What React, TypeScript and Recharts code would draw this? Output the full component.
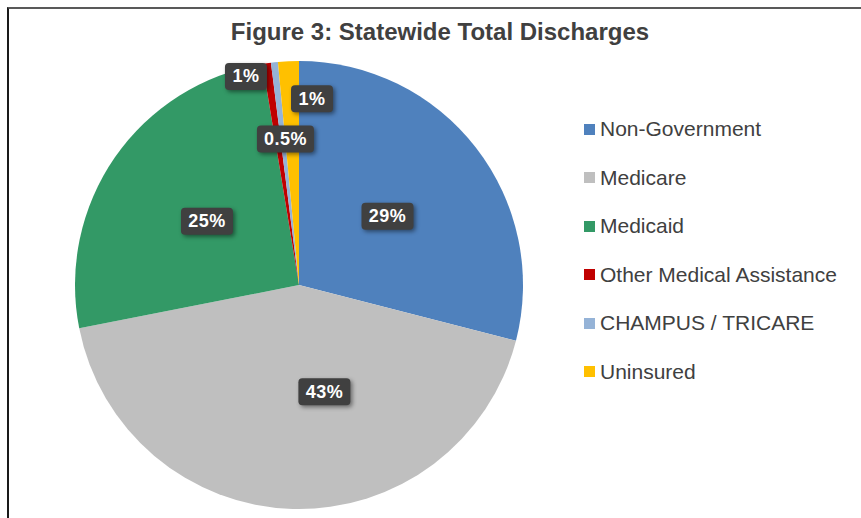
import { PieChart, Pie, Cell, Legend } from 'recharts'

const categories = [
  'Non-Government',
  'Medicare',
  'Medicaid',
  'Other Medical Assistance',
  'CHAMPUS / TRICARE',
  'Uninsured',
]
const shares = [29.0, 42.9, 25.5, 0.6, 0.5, 1.5]
const shareLabels = ['29%', '43%', '25%', '1%', '0.5%', '1%']

const colors = ['#4F81BD', '#BFBFBF', '#339966', '#C00000', '#95B3D7', '#FFC000']
// where each data label sits: fraction of the radius, and a nudge in degrees (clockwise)
const labelSpots = [
  { r: 0.5, nudge: 0 },
  { r: 0.49, nudge: -15 },
  { r: 0.5, nudge: 0 },
  { r: 0.96, nudge: -6 },
  { r: 0.655, nudge: 1 },
  { r: 0.833, nudge: 6.7 },
]

const data = categories.map((name, i) => ({ name, value: shares[i] }))

const charW: Record<string, number> = { '.': 0.278, '%': 0.889 }
function textWidth(s: string, size: number) {
  return s.split('').reduce((w, c) => w + (charW[c] ?? 0.556), 0) * size
}

function renderLabel(props: any) {
  const { cx, cy, midAngle, outerRadius, index } = props
  const spot = labelSpots[index]
  const theta = ((90 - midAngle + spot.nudge) * Math.PI) / 180
  const r = outerRadius * spot.r
  const x = cx + r * Math.sin(theta)
  const y = cy - r * Math.cos(theta)
  const text = shareLabels[index]
  const w = textWidth(text, 18) + 16
  const h = 27
  return (
    <g key={`lbl-${index}`}>
      <rect
        x={x - w / 2}
        y={y - h / 2}
        width={w}
        height={h}
        rx={4}
        fill="#404040"
        style={{ filter: 'drop-shadow(2px 2px 2px rgba(0,0,0,0.45))' }}
      />
      <text
        x={x}
        y={y + 1}
        textAnchor="middle"
        dominantBaseline="middle"
        fill="#ffffff"
        fontSize={18}
        fontWeight="bold"
        letterSpacing={0.5}
        fontFamily="'Liberation Sans', Arial, sans-serif"
      >
        {text}
      </text>
    </g>
  )
}

function LegendList({ payload }: any) {
  const items = [...(payload || [])].sort(
    (a: any, b: any) => categories.indexOf(a.value) - categories.indexOf(b.value)
  )
  return (
    <div>
      {items.map((entry: any, i: number) => (
        <div
          key={i}
          style={{ display: 'flex', alignItems: 'center', height: 48.5, whiteSpace: 'nowrap' }}
        >
          <span
            style={{ width: 11, height: 11, background: entry.color, marginRight: 5, flex: 'none' }}
          />
          <span style={{ fontSize: 21, color: '#404040' }}>{entry.value}</span>
        </div>
      ))}
    </div>
  )
}

export default function App() {
  return (
    <div
      style={{
        position: 'relative',
        width: 861,
        height: 518,
        overflow: 'hidden',
        background: '#fff',
        fontFamily: "'Liberation Sans', Arial, sans-serif",
      }}
    >
      <style>{`body{margin:0} .recharts-pie-sectors{filter:drop-shadow(0 0 6px rgba(0,0,0,0.3))}`}</style>
      <div
        style={{
          position: 'absolute',
          left: 7,
          top: 7,
          width: 900,
          height: 600,
          borderLeft: '2px solid #1a1a1a',
          borderTop: '2px solid #595959',
        }}
      />
      <div
        style={{
          position: 'absolute',
          top: 18,
          left: 0,
          width: 880,
          textAlign: 'center',
          fontSize: 24,
          fontWeight: 'bold',
          color: '#404040',
        }}
      >
        Figure 3: Statewide Total Discharges
      </div>
      <PieChart
        width={861}
        height={518}
        margin={{ top: 0, right: 0, bottom: 0, left: 0 }}
        style={{ position: 'absolute', left: 0, top: 0 }}
      >
        <Pie
          data={data}
          dataKey="value"
          nameKey="name"
          cx={299}
          cy={285}
          outerRadius={224}
          startAngle={90}
          endAngle={-270}
          stroke="none"
          label={renderLabel}
          labelLine={false}
          isAnimationActive={false}
        >
          {data.map((d, i) => (
            <Cell key={d.name} fill={colors[i]} />
          ))}
        </Pie>
        <Legend
          layout="vertical"
          verticalAlign="middle"
          align="right"
          content={<LegendList />}
          wrapperStyle={{ left: 584, top: 105, right: 'auto', width: 280 }}
        />
      </PieChart>
    </div>
  )
}
